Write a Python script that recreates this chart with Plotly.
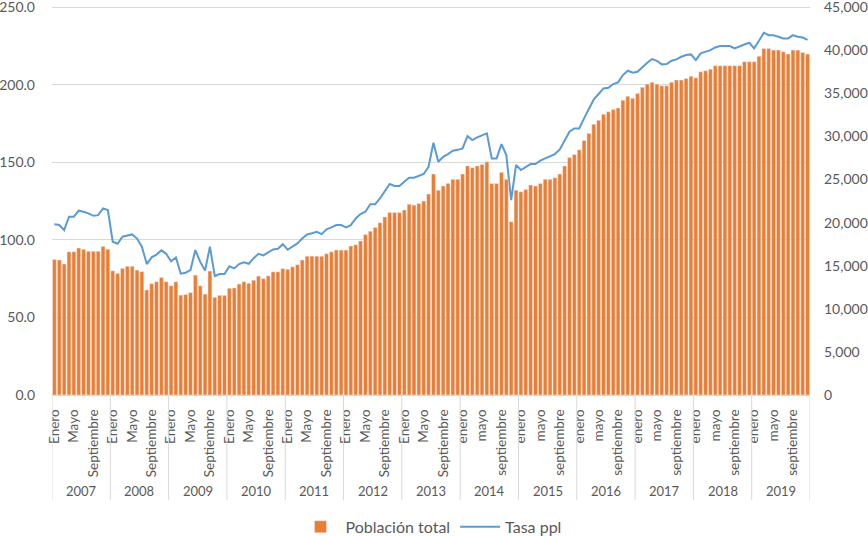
import plotly.graph_objects as go

years = list(range(2007, 2020))
meses = ["Enero", "Febrero", "Marzo", "Abril", "Mayo", "Junio", "Julio",
         "Agosto", "Septiembre", "Octubre", "Noviembre", "Diciembre"]

# Población total (right axis)
pob_2007 = [15730, 15660, 15190, 16610, 16610, 17050, 16900, 16670, 16670, 16670, 17240, 16900]
pob_2008 = [14400, 14110, 14690, 14940, 14940, 14490, 14310, 12190, 12910, 13140, 13640, 13140]
pob_2009 = [12670, 13140, 11590, 11660, 11880, 13910, 12670, 11700, 14380, 11340, 11560, 11560]
pob_2010 = [12380, 12420, 12870, 13140, 12960, 13320, 13790, 13500, 13820, 14290, 14290, 14670]
pob_2011 = [14580, 14870, 15120, 15660, 16110, 16110, 16110, 16110, 16380, 16610, 16810, 16810]
pob_2012 = [16810, 17280, 17420, 17870, 18630, 19010, 19440, 19980, 20660, 21170, 21170, 21170]
pob_2013 = [21460, 22140, 22030, 22230, 22500, 23310, 25630, 23760, 24250, 24550, 25020, 25020]
pob_2014 = [25630, 26570, 26370, 26570, 26750, 27050, 24550, 24550, 25830, 25020, 20110, 23760]
pob_2015 = [23580, 23850, 24350, 24250, 24550, 25020, 25020, 25200, 25630, 26570, 27540, 27900]
pob_2016 = [28440, 29520, 30350, 31410, 31860, 32580, 32850, 33120, 33300, 34200, 34650, 34420]
pob_2017 = [34970, 35690, 36070, 36270, 36070, 35870, 35870, 36270, 36540, 36540, 36720, 36990]
pob_2018 = [36790, 37490, 37620, 37800, 38200, 38200, 38200, 38200, 38200, 38200, 38660, 38660]
pob_2019 = [38660, 39310, 40210, 40210, 40010, 40010, 39820, 39550, 40010, 40010, 39740, 39550]

# Tasa ppl (left axis)
tasa_2007 = [110.0, 109.6, 106.3, 114.9, 114.9, 118.8, 118.1, 117.1, 115.5, 115.9, 120.3, 119.2]
tasa_2008 = [98.8, 97.5, 102.0, 102.8, 103.5, 100.8, 95.6, 84.4, 88.7, 90.5, 93.2, 91.0]
tasa_2009 = [86.2, 88.7, 78.2, 78.8, 80.5, 93.4, 85.8, 80.2, 95.6, 76.7, 78.0, 78.0]
tasa_2010 = [82.9, 81.6, 84.4, 85.5, 84.6, 88.2, 91.0, 90.0, 92.0, 93.8, 94.2, 97.2]
tasa_2011 = [93.6, 95.6, 97.7, 100.9, 103.5, 104.2, 105.2, 103.7, 106.8, 108.0, 109.5, 109.5]
tasa_2012 = [108.0, 109.5, 113.8, 116.6, 118.1, 122.9, 122.9, 126.7, 131.0, 136.0, 134.7, 134.7]
tasa_2013 = [137.4, 140.0, 140.0, 141.1, 142.4, 147.1, 162.6, 150.3, 153.5, 155.3, 157.4, 158.0]
tasa_2014 = [158.9, 166.9, 164.3, 166.0, 167.5, 168.6, 152.5, 152.5, 161.7, 154.6, 125.6, 148.2]
tasa_2015 = [145.0, 147.1, 148.8, 148.8, 151.0, 152.5, 154.0, 155.3, 158.3, 164.3, 169.7, 171.8]
tasa_2016 = [171.8, 178.3, 184.0, 190.5, 194.0, 197.6, 198.0, 200.4, 201.5, 206.2, 209.0, 207.7]
tasa_2017 = [208.3, 211.5, 214.1, 216.5, 215.4, 213.1, 213.3, 215.4, 216.3, 218.0, 219.1, 219.5]
tasa_2018 = [215.8, 220.2, 221.3, 222.3, 224.0, 224.9, 224.9, 224.9, 223.4, 224.9, 225.9, 227.0]
tasa_2019 = [223.4, 228.3, 233.5, 231.9, 231.9, 230.9, 229.8, 229.8, 231.9, 230.9, 230.4, 228.9]

poblacion = (pob_2007 + pob_2008 + pob_2009 + pob_2010 + pob_2011 + pob_2012 + pob_2013
             + pob_2014 + pob_2015 + pob_2016 + pob_2017 + pob_2018 + pob_2019)
tasa = (tasa_2007 + tasa_2008 + tasa_2009 + tasa_2010 + tasa_2011 + tasa_2012 + tasa_2013
        + tasa_2014 + tasa_2015 + tasa_2016 + tasa_2017 + tasa_2018 + tasa_2019)

labels = []
for yr in years:
    for m in meses:
        labels.append(m if yr <= 2013 else m.lower())
x = list(range(len(labels)))

GRAY = "#595959"
GRID = "#D9D9D9"
FONT = "Lato"

W, H = 868, 536
ML, MR, MT, MB = 52, 58, 4, 141
PH = H - MT - MB
YTOP = 252.0  # a little headroom so the 250 tick and grid line are kept

fig = go.Figure()
fig.add_trace(go.Bar(x=x, y=poblacion, name="Población total",
                     marker=dict(color="#ED7D31"), yaxis="y2"))
fig.add_trace(go.Scatter(x=x, y=tasa, name="Tasa ppl", mode="lines",
                         line=dict(color="#5B9BD5", width=2)))

tickvals = x[::4]
ticktext = [labels[i] for i in tickvals]

sep_bottom = -(500 - (MT + PH)) / PH
year_y = -(491 - (MT + PH)) / PH

shapes = []
for k in range(len(years) + 1):
    xv = 12 * k - 0.5
    shapes.append(dict(type="line", xref="x", yref="paper", x0=xv, x1=xv,
                       y0=0, y1=sep_bottom, line=dict(color=GRID, width=1)))

annotations = []
for k, yr in enumerate(years):
    annotations.append(dict(x=12 * k + 5.5, y=year_y, xref="x", yref="paper",
                            text=str(yr), showarrow=False, yanchor="middle",
                            font=dict(family=FONT, size=13, color=GRAY)))

fig.update_layout(
    width=W, height=H,
    margin=dict(l=ML, r=MR, t=MT, b=MB, autoexpand=False),
    plot_bgcolor="white", paper_bgcolor="white",
    font=dict(family=FONT, color=GRAY),
    bargap=0.2,
    showlegend=True,
    legend=dict(orientation="h", x=0.5, xanchor="center", yref="container",
                y=0.017, yanchor="middle", font=dict(family=FONT, size=16, color=GRAY),
                traceorder="normal", itemwidth=40),
    xaxis=dict(range=[-0.5, 155.5], tickmode="array", tickvals=tickvals,
               ticktext=ticktext, tickangle=-90, showgrid=False, zeroline=False,
               showline=True, linecolor=GRID, ticks="", automargin=False,
               tickfont=dict(family=FONT, size=13.5, color=GRAY), ticklabelstandoff=8),
    yaxis=dict(range=[0, YTOP], tickmode="array", tickvals=[0, 50, 100, 150, 200, 250],
               tickformat=".1f", showgrid=True,
               gridcolor=GRID, gridwidth=1, zeroline=False, showline=False,
               automargin=False, ticklabeloverflow="allow",
               tickfont=dict(family=FONT, size=14, color=GRAY), ticklabelstandoff=16),
    yaxis2=dict(range=[0, 45000 * YTOP / 250], tickmode="array",
                tickvals=[0, 5000, 10000, 15000, 20000, 25000, 30000, 35000, 40000, 45000],
                tickformat=",d", overlaying="y",
                side="right", showgrid=False, zeroline=False, showline=False,
                automargin=False, ticklabeloverflow="allow",
                tickfont=dict(family=FONT, size=14, color=GRAY), ticklabelstandoff=13),
    shapes=shapes,
    annotations=annotations,
)

# remove the default page margin so the figure sits at the window's top-left corner
fig.write_html("out.html",
               config={"displayModeBar": False},
               post_script="document.body.style.margin='0';document.body.style.overflow='hidden';")
